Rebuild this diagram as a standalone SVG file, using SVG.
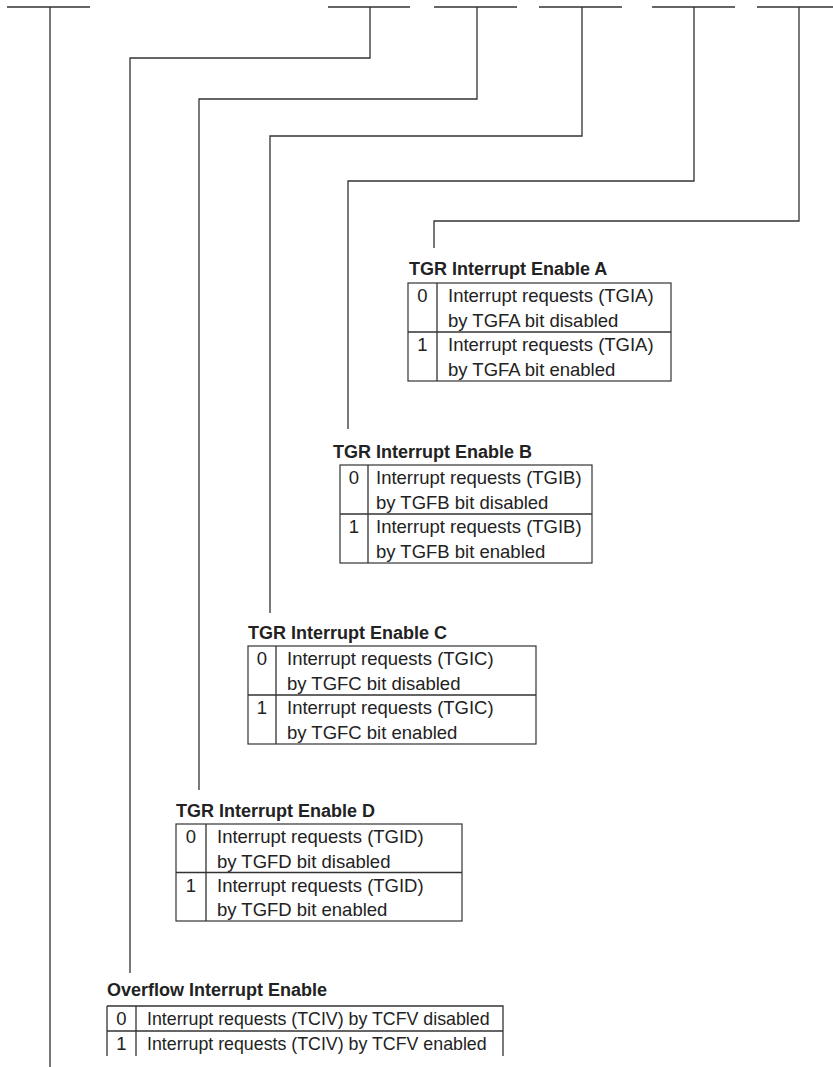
<svg xmlns="http://www.w3.org/2000/svg" width="833" height="1067" viewBox="0 0 833 1067">
<style>
.ln{fill:none;stroke:#333;stroke-width:1.3}
.tb{fill:#fff;stroke:#333;stroke-width:1.2}
.hd{font-family:"Liberation Sans",Arial,sans-serif;font-weight:bold;font-size:18px;fill:#222}
.tx{font-family:"Liberation Sans",Arial,sans-serif;font-size:18.5px;fill:#222}
.ts{font-family:"Liberation Sans",Arial,sans-serif;font-size:17.8px;fill:#222}
.nm{font-family:"Liberation Sans",Arial,sans-serif;font-size:18.5px;fill:#222;text-anchor:middle}
</style>
<rect width="833" height="1067" fill="#fff"/>
<g id="connectors">
<path class="ln" d="M7 7H90M50 7V1067"/>
<path class="ln" d="M328 7H410M370 7V58H130V973"/>
<path class="ln" d="M434 7H517M477 7V99H199V790"/>
<path class="ln" d="M539 7H622M582 7V136H270V613"/>
<path class="ln" d="M652 7H735M694 7V181H348V429"/>
<path class="ln" d="M757 7H833M799 7V221H434V248"/>
</g>
<g id="enableA">
<text class="hd" x="409" y="275">TGR Interrupt Enable A</text>
<rect class="tb" x="408" y="283" width="263" height="98"/>
<path class="ln" d="M437 283V381M408 332H671"/>
<text class="nm" x="422.5" y="302">0</text>
<text class="tx" x="448" y="302">Interrupt requests (TGIA)</text>
<text class="tx" x="448" y="326.5">by TGFA bit disabled</text>
<text class="nm" x="422.5" y="351">1</text>
<text class="tx" x="448" y="351">Interrupt requests (TGIA)</text>
<text class="tx" x="448" y="375.5">by TGFA bit enabled</text>
</g>
<g id="enableB">
<text class="hd" x="333" y="458">TGR Interrupt Enable B</text>
<rect class="tb" x="340" y="465" width="252" height="98"/>
<path class="ln" d="M368 465V563M340 514H592"/>
<text class="nm" x="354" y="484">0</text>
<text class="tx" x="376" y="484">Interrupt requests (TGIB)</text>
<text class="tx" x="376" y="508.5">by TGFB bit disabled</text>
<text class="nm" x="354" y="533">1</text>
<text class="tx" x="376" y="533">Interrupt requests (TGIB)</text>
<text class="tx" x="376" y="557.5">by TGFB bit enabled</text>
</g>
<g id="enableC">
<text class="hd" x="248" y="639">TGR Interrupt Enable C</text>
<rect class="tb" x="248" y="646" width="288" height="98"/>
<path class="ln" d="M276 646V744M248 695H536"/>
<text class="nm" x="262" y="665">0</text>
<text class="tx" x="287" y="665">Interrupt requests (TGIC)</text>
<text class="tx" x="287" y="689.5">by TGFC bit disabled</text>
<text class="nm" x="262" y="714">1</text>
<text class="tx" x="287" y="714">Interrupt requests (TGIC)</text>
<text class="tx" x="287" y="738.5">by TGFC bit enabled</text>
</g>
<g id="enableD">
<text class="hd" x="176" y="817">TGR Interrupt Enable D</text>
<rect class="tb" x="176" y="824" width="286" height="97"/>
<path class="ln" d="M206 824V921M176 872.5H462"/>
<text class="nm" x="191" y="843">0</text>
<text class="tx" x="217" y="843">Interrupt requests (TGID)</text>
<text class="tx" x="217" y="867.5">by TGFD bit disabled</text>
<text class="nm" x="191" y="892">1</text>
<text class="tx" x="217" y="892">Interrupt requests (TGID)</text>
<text class="tx" x="217" y="916">by TGFD bit enabled</text>
</g>
<g id="overflow">
<text class="hd" x="107" y="996">Overflow Interrupt Enable</text>
<path class="ln" d="M107 1006H503V1056M107 1006V1056M136 1006V1056M107 1031H503"/>
<text class="nm" x="121.5" y="1025">0</text>
<text class="ts" x="147" y="1025">Interrupt requests (TCIV) by TCFV disabled</text>
<text class="nm" x="121.5" y="1050">1</text>
<text class="ts" x="147" y="1050">Interrupt requests (TCIV) by TCFV enabled</text>
</g>
</svg>
